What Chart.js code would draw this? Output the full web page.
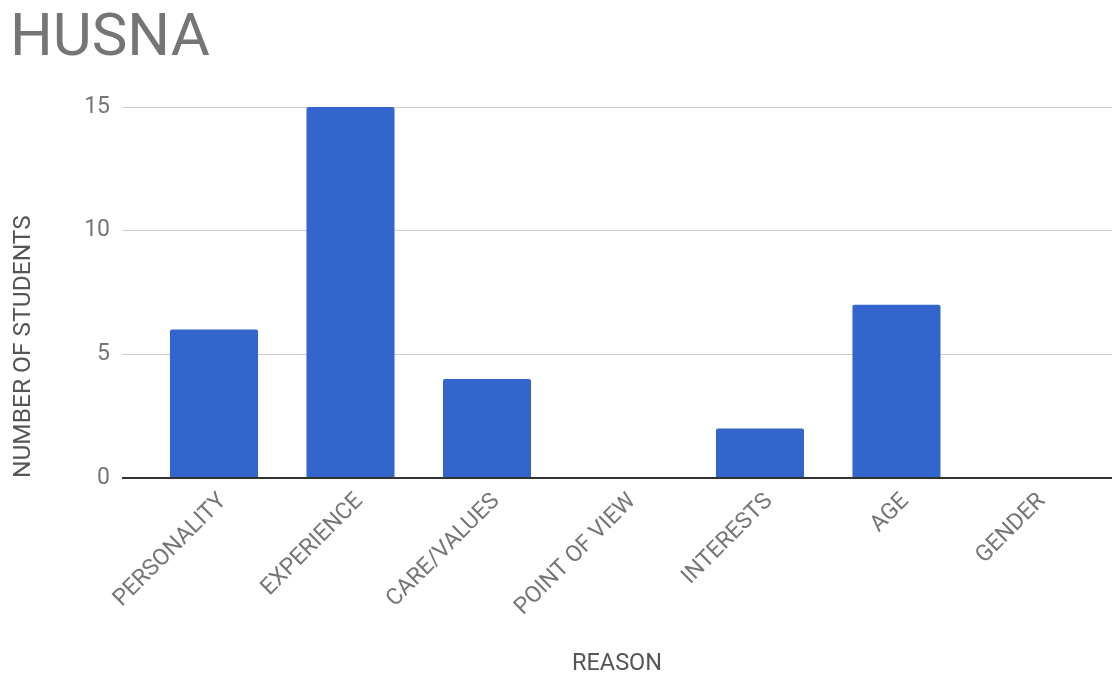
<!DOCTYPE html>
<html>
<head>
<meta charset="utf-8">
<script src="https://cdn.jsdelivr.net/npm/chart.js@4"></script>
<style>
  html, body { margin: 0; padding: 0; background: #fff; }
  #wrap { width: 1112px; height: 677px; position: relative; }
</style>
</head>
<body>
<div id="wrap"><canvas id="barChart"></canvas></div>
<script>
// ============= Data =============
const reasons = ["PERSONALITY", "EXPERIENCE", "CARE/VALUES", "POINT OF VIEW", "INTERESTS", "AGE", "GENDER"];
const students = [6, 15, 4, 0, 2, 7, 0];
const yTicks = [0, 5, 10, 15];

// ============= Chart =============
new Chart(document.getElementById("barChart"), {
  type: "bar",
  data: {
    datasets: [{
      label: "Number of students",
      data: reasons.map((r, i) => ({ x: i, y: students[i] })),
      backgroundColor: "#3366cc",
      borderRadius: 2,
      borderSkipped: "bottom",
      categoryPercentage: 1,
      barPercentage: 0.645
    }]
  },
  options: {
    responsive: true,
    maintainAspectRatio: false,
    animation: false,
    layout: { padding: { left: 10, right: 0, top: 0, bottom: 0 } },
    plugins: {
      legend: { display: false },
      tooltip: { enabled: false },
      title: {
        display: true,
        text: "HUSNA",
        align: "start",
        color: "#757575",
        font: { family: "Roboto", size: 60, weight: "normal", lineHeight: 1.2 },
        padding: { top: 4, bottom: 31 }
      }
    },
    scales: {
      x: {
        type: "linear",
        offset: false,
        min: -0.674,
        max: 6.579,
        afterBuildTicks: (scale) => { scale.ticks = reasons.map((r, i) => ({ value: i })); },
        afterFit: (scale) => { scale.height = 199; },
        grid: { display: false },
        border: { display: false },
        ticks: {
          autoSkip: false,
          minRotation: 45,
          maxRotation: 45,
          padding: 2,
          labelOffset: 9,
          color: "#757575",
          font: { family: "Roboto", size: 23 },
          callback: (v) => reasons[v] ?? ""
        },
        title: {
          display: true,
          text: "REASON",
          color: "#555",
          font: { family: "Roboto", size: 23.5, lineHeight: 1.1 },
          padding: { top: 0, bottom: 0 }
        }
      },
      y: {
        min: 0,
        max: 15,
        afterBuildTicks: (scale) => { scale.ticks = yTicks.map(v => ({ value: v })); },
        afterFit: (scale) => { scale.width = 112; },
        border: { display: false },
        grid: {
          drawTicks: false,
          color: (ctx) => ctx.tick && ctx.tick.value === 0 ? "#333" : "#cccccc",
          lineWidth: (ctx) => ctx.tick && ctx.tick.value === 0 ? 2 : 1
        },
        ticks: {
          padding: 12,
          color: "#757575",
          font: { family: "Roboto", size: 23 }
        },
        title: {
          display: true,
          text: "NUMBER OF STUDENTS",
          align: "start",
          color: "#555",
          font: { family: "Roboto", size: 24.5, lineHeight: 1.1 },
          padding: { top: 0, bottom: 0 }
        }
      }
    }
  }
});
</script>
</body>
</html>
